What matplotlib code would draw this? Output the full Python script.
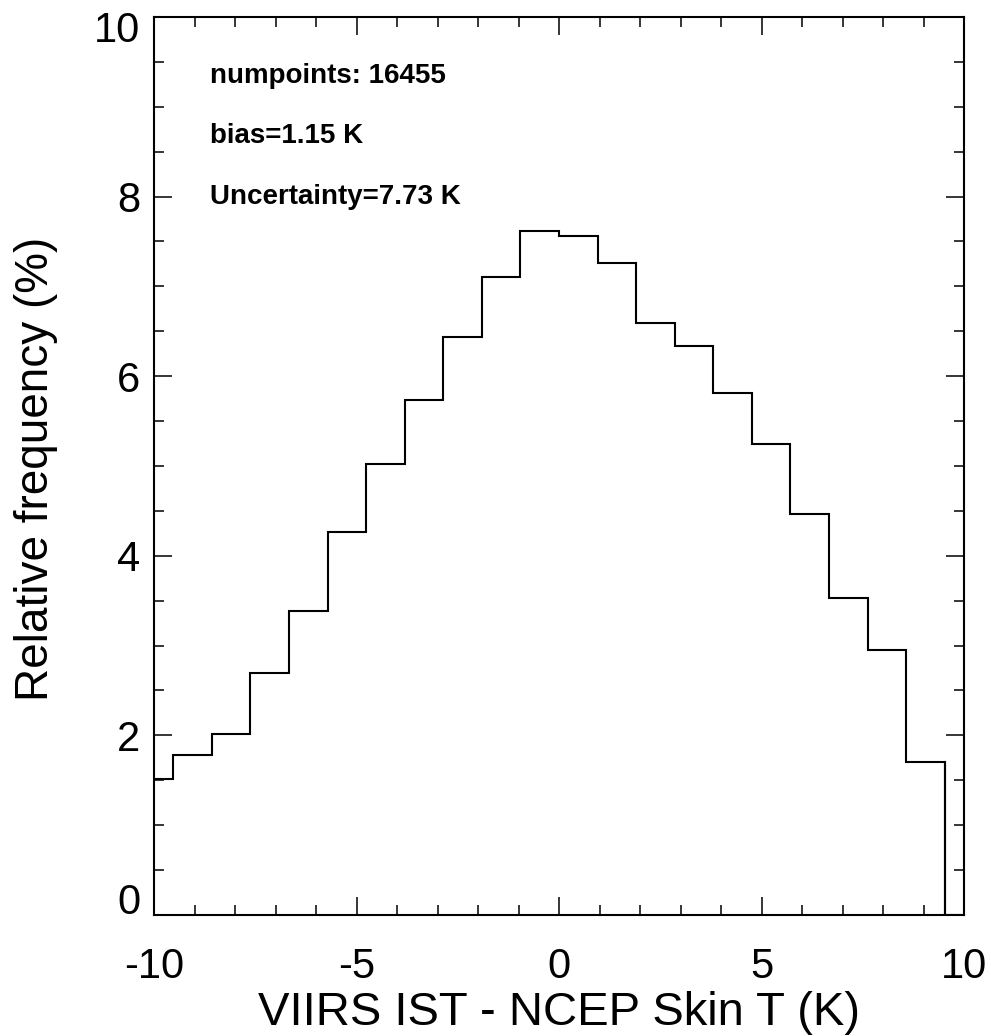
import numpy as np
import matplotlib.pyplot as plt
from matplotlib.ticker import MultipleLocator
from matplotlib.transforms import ScaledTranslation

plt.rcParams['font.family'] = ['Liberation Sans', 'DejaVu Sans']
plt.rcParams['axes.unicode_minus'] = False

# histogram of VIIRS IST minus NCEP skin temperature, bin width 20/21 K
bin_width = 20.0 / 21.0
bin_index = np.arange(-11, 11)          # bins k*w .. (k+1)*w
rel_freq = [1.51, 1.78, 2.02, 2.69, 3.39, 4.26, 5.02, 5.73, 6.44, 7.10, 7.62,
            7.56, 7.26, 6.59, 6.34, 5.81, 5.24, 4.47, 3.53, 2.95, 1.70, 0.0]

stats_lines = ['numpoints: 16455', 'bias=1.15 K', 'Uncertainty=7.73 K']

edges = np.append(bin_index, bin_index[-1] + 1) * bin_width
edges = np.clip(edges, -10, 10)

fig = plt.figure(figsize=(9.91, 10.36), dpi=100)
ax = fig.add_axes([0.1554, 0.1168, 0.8174, 0.8668])

ax.stairs(rel_freq, edges, color='black', lw=1.5, baseline=None)
# drop to zero at the end of the last filled bin
ax.plot([edges[-2], edges[-2]], [rel_freq[-2], 0], color='black', lw=1.5)

ax.set_xlim(-10, 10)
ax.set_ylim(0, 10)
ax.xaxis.set_major_locator(MultipleLocator(5))
ax.xaxis.set_minor_locator(MultipleLocator(1))
ax.yaxis.set_major_locator(MultipleLocator(2))
ax.yaxis.set_minor_locator(MultipleLocator(0.5))
ax.tick_params(which='both', direction='in', top=True, right=True,
               width=1.1, labelsize=30)
ax.tick_params(which='major', length=13)
ax.tick_params(which='minor', length=7)
ax.tick_params(axis='x', pad=23)
ax.tick_params(axis='y', pad=10)
for s in ax.spines.values():
    s.set_linewidth(1.5)

ax.set_xlabel('VIIRS IST - NCEP Skin T (K)', fontsize=34)
ax.xaxis.label.set_va('baseline')
ax.xaxis.set_label_coords(0.5, -0.1225)
ax.set_ylabel('Relative frequency (%)', fontsize=33)
ax.yaxis.label.set_va('baseline')
ax.yaxis.set_label_coords(-0.131, 0.497)

for i, line in enumerate(stats_lines):
    ax.text(-8.62, 9.265 - 0.673 * i, line, fontsize=20, fontweight='bold',
            va='baseline', ha='left')

# nudge the end labels of the y axis inside the frame
fig.canvas.draw()
for tick in ax.yaxis.get_major_ticks():
    lab = tick.label1
    if np.isclose(tick.get_loc(), 0):
        lab.set_transform(lab.get_transform()
                          + ScaledTranslation(0, 12 / 72, fig.dpi_scale_trans))
    elif np.isclose(tick.get_loc(), 10):
        lab.set_transform(lab.get_transform()
                          + ScaledTranslation(0, -7 / 72, fig.dpi_scale_trans))

fig.savefig('out.png', dpi=100)
